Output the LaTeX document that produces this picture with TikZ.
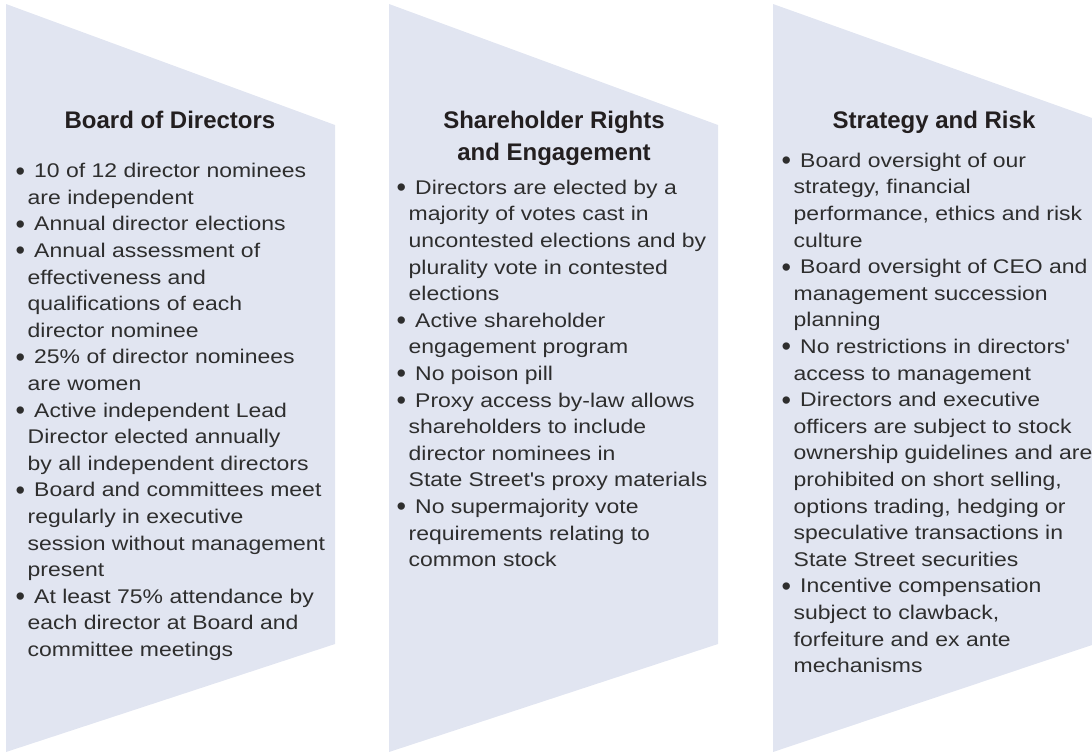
\documentclass[tikz,border=0pt]{standalone}
\usepackage{fontspec}
\setmainfont{Liberation Sans}
\newfontfamily\bodyfont{Liberation Sans}[FakeStretch=1.16]
\definecolor{panel}{HTML}{E1E5F1}
\definecolor{bodytext}{HTML}{2E2E2E}
\definecolor{titletext}{HTML}{231F20}
\newcommand\B{\makebox[18pt][l]{\hspace*{-0.5pt}{\rmfamily\fontsize{27}{27}\selectfont\raisebox{-2.3pt}{•}}}}
\newcommand\I{\hspace*{11.5pt}}
\tikzset{
  panelshape/.style={fill=panel, draw=none},
  bodyline/.style={font=\bodyfont\fontsize{19.8}{24}\selectfont, text=bodytext, inner sep=0pt, anchor=base west},
  titleline/.style={font=\bfseries\fontsize{24}{32}\selectfont, text=titletext, inner sep=0pt, anchor=base}
}
\begin{document}
\begin{tikzpicture}[x=1pt,y=-1pt]
\useasboundingbox (0,0) rectangle (1092,753);
\fill[panelshape] (6,4) -- (335,125) -- (335,644) -- (6,752) -- cycle;
\fill[panelshape] (389,4) -- (718,125) -- (718,644) -- (389,752) -- cycle;
\fill[panelshape] (773,4) -- (1092,118) -- (1092,645) -- (773,752) -- cycle;

\node[titleline] (t1) at (170,128) {Board of Directors};
\node[titleline] (t2a) at (554,128) {Shareholder Rights};
\node[titleline] (t2b) at (554,160) {and Engagement};
\node[titleline] (t3) at (934,128) {Strategy and Risk};

\foreach [count=\i] \t in {
  {\B 10 of 12 director nominees},
  {\I are independent},
  {\B Annual director elections},
  {\B Annual assessment of},
  {\I effectiveness and},
  {\I qualifications of each},
  {\I director nominee},
  {\B 25\% of director nominees},
  {\I are women},
  {\B Active independent Lead},
  {\I Director elected annually},
  {\I by all independent directors},
  {\B Board and committees meet},
  {\I regularly in executive},
  {\I session without management},
  {\I present},
  {\B At least 75\% attendance by},
  {\I each director at Board and},
  {\I committee meetings}}
  {\node[bodyline] (c1-\i) at (16,{177.7+26.6*(\i-1)}) {\t};}

\foreach [count=\i] \t in {
  {\B Directors are elected by a},
  {\I majority of votes cast in},
  {\I uncontested elections and by},
  {\I plurality vote in contested},
  {\I elections},
  {\B Active shareholder},
  {\I engagement program},
  {\B No poison pill},
  {\B Proxy access by-law allows},
  {\I shareholders to include},
  {\I director nominees in},
  {\I State Street\textquotesingle s proxy materials},
  {\B No supermajority vote},
  {\I requirements relating to},
  {\I common stock}}
  {\node[bodyline] (c2-\i) at (397,{194.3+26.6*(\i-1)}) {\t};}

\foreach [count=\i] \t in {
  {\B Board oversight of our},
  {\I strategy, financial},
  {\I performance, ethics and risk},
  {\I culture},
  {\B Board oversight of CEO and},
  {\I management succession},
  {\I planning},
  {\B No restrictions in directors\textquotesingle},
  {\I access to management},
  {\B Directors and executive},
  {\I officers are subject to stock},
  {\I ownership guidelines and are},
  {\I prohibited on short selling,},
  {\I options trading, hedging or},
  {\I speculative transactions in},
  {\I State Street securities},
  {\B Incentive compensation},
  {\I subject to clawback,},
  {\I forfeiture and ex ante},
  {\I mechanisms}}
  {\node[bodyline] (c3-\i) at (782,{167.3+26.6*(\i-1)}) {\t};}
\end{tikzpicture}
\end{document}
